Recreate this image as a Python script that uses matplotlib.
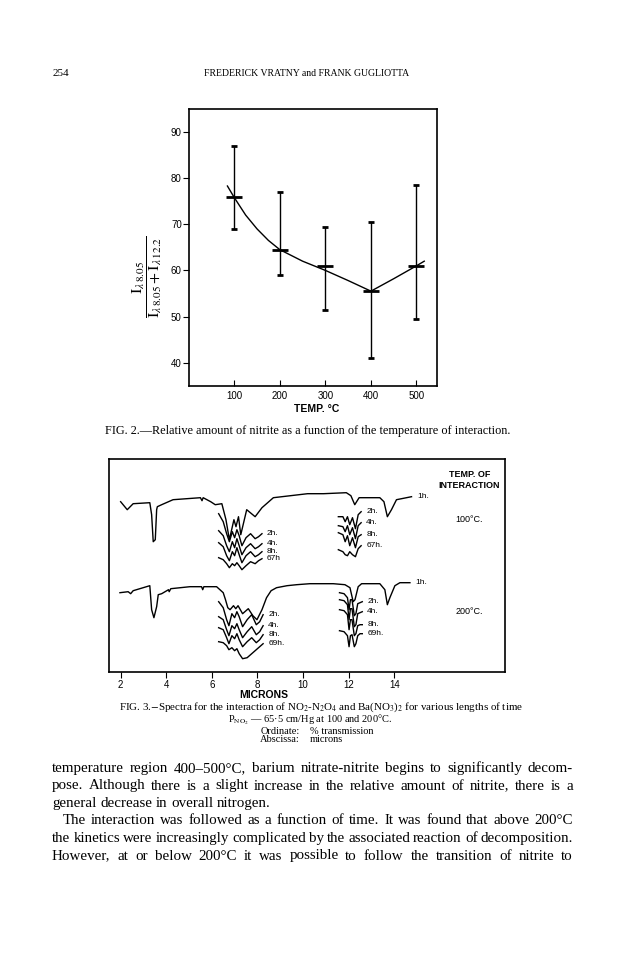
import matplotlib.pyplot as plt
from matplotlib.font_manager import FontProperties

W, H = 624, 960
SERIF = "Liberation Serif"
SANS = "Liberation Sans"
plt.rcParams["mathtext.fontset"] = "stix"

# -----------------------------
# Fig. 2 data (ratio vs temperature)
# -----------------------------
temps = [100, 200, 300, 400, 500]
ratio = [76, 64.5, 61, 55.5, 61]
ratio_low = [69, 59, 51.5, 41, 49.5]
ratio_high = [87, 77, 69.5, 70.5, 78.5]
fit_t = [85, 100, 125, 150, 175, 200, 250, 300, 350, 400, 450, 500, 517]
fit_r = [78.3, 75.8, 72.0, 69.0, 66.5, 64.5, 62.0, 60.0, 57.8, 55.5, 58.2, 61.0, 62.0]

# -----------------------------
# Fig. 3 data (spectra, arbitrary transmission scale)
# -----------------------------
s100_x = [2.0, 2.29, 2.55, 3.28, 3.36, 3.43, 3.52, 3.58, 3.61, 3.8,
          4.3, 5.5, 5.57, 5.62, 5.95, 6.15, 6.44, 6.62, 6.77, 6.97,
          7.06, 7.17, 7.27, 7.53, 7.9, 8.2, 8.7, 9.45, 10.2, 10.9,
          11.9, 12.1, 12.27, 12.46, 13.37, 13.55, 13.7, 13.88, 14.1, 14.76]
s100_y = [170, 162, 168, 169, 157, 130, 132, 162, 165, 167,
          172, 174, 171, 174, 170, 167, 168, 152, 132, 152,
          145, 155, 137, 162, 155, 164, 174, 176, 178, 178,
          179, 176, 167, 174, 174, 170, 155, 162, 172, 175]

s200_x = [1.97, 2.33, 2.44, 2.55, 3.28, 3.36, 3.46, 3.58, 3.65, 3.8,
          4.1, 4.13, 4.2, 5.04, 5.55, 5.6, 5.65, 6.21, 6.5, 6.6,
          6.7, 6.8, 6.95, 7.05, 7.15, 7.35, 7.6, 7.8, 7.98, 8.2,
          8.4, 8.6, 8.84, 9.3, 9.72, 10.3, 11.33, 11.84, 12.06, 12.2,
          12.28, 12.42, 12.57, 13.37, 13.59, 13.7, 13.81, 14.03, 14.25, 14.69]
s200_y = [79, 80, 78, 81, 86, 62, 54, 65, 77, 78,
          82, 80, 83, 85, 85, 82, 85, 85, 79, 72,
          64, 62, 66, 63, 66, 58, 63, 56, 52, 62,
          74, 81, 84, 86, 87, 88, 88, 87, 84, 70,
          72, 85, 88, 88, 82, 67, 74, 86, 89, 89]

# 6-8 micron region, later times
band_a100_x = [6.3, 6.5, 6.65, 6.77, 6.9, 7.0, 7.1, 7.2, 7.32, 7.5, 7.7, 7.9, 8.05, 8.2]
band_a100 = {
    "2h.": [158, 150, 138, 130, 140, 134, 142, 136, 126, 134, 138, 133, 135, 138],
    "4h.": [141, 136, 126, 120, 130, 124, 133, 126, 117, 124, 128, 123, 125, 128],
    "8h.": [129, 125, 116, 111, 120, 116, 124, 117, 109, 116, 120, 115, 117, 120],
    "67h": [114, 112, 108, 104, 108, 106, 109, 106, 102, 106, 110, 108, 111, 113],
}
band_a200_x = [6.3, 6.5, 6.65, 6.75, 6.88, 7.0, 7.1, 7.2, 7.35, 7.55, 7.75, 7.95, 8.1, 8.25]
band_a200 = {
    "2h.": [70, 64, 52, 46, 58, 54, 60, 55, 45, 52, 57, 47, 50, 57],
    "4h.": [55, 52, 42, 36, 46, 43, 48, 42, 34, 40, 45, 37, 40, 46],
    "8h.": [44, 42, 34, 28, 36, 33, 38, 32, 25, 30, 34, 29, 32, 37],
    "69h.": [30, 29, 26, 22, 24, 21, 23, 18, 13, 14, 18, 22, 25, 28],
}
# 12 micron region, later times
band_b100_x = [11.55, 11.75, 11.85, 11.95, 12.05, 12.17, 12.3, 12.42, 12.55]
band_b100 = {
    "2h.": [155, 155, 150, 155, 147, 154, 143, 157, 160],
    "4h.": [146, 145, 140, 146, 137, 144, 133, 146, 149],
    "8h.": [139, 137, 130, 136, 126, 134, 124, 135, 137],
    "67h.": [122, 120, 117, 116, 120, 117, 115, 123, 126],
}
band_b200_x = [11.6, 11.8, 11.95, 12.02, 12.08, 12.15, 12.25, 12.32, 12.4, 12.5, 12.6]
band_b200 = {
    "2h.": [79, 78, 74, 62, 72, 72, 56, 58, 68, 69, 70],
    "4h.": [72, 71, 67, 52, 63, 63, 45, 47, 58, 59, 60],
    "8h.": [62, 61, 57, 42, 52, 52, 36, 38, 46, 47, 47],
    "69h.": [41, 40, 36, 25, 36, 37, 25, 28, 36, 38, 38],
}
micron_ticks = [2, 4, 6, 8, 10, 12, 14]

# body text: (line, justified?)
body_lines = [
    ("temperature region 400\u2013500\u00b0C, barium nitrate-nitrite begins to significantly decom-", True),
    ("pose.  Although there is a slight increase in the relative amount of nitrite, there is a", True),
    ("general decrease in overall nitrogen.", False),
    ("The interaction was followed as a function of time.  It was found that above 200\u00b0C", True),
    ("the kinetics were increasingly complicated by the associated reaction of decomposition.", True),
    ("However, at or below 200\u00b0C it was possible to follow the transition of nitrite to", True),
]

fig = plt.figure(figsize=(W / 100, H / 100), dpi=100)
fig.patch.set_facecolor("white")


def page_text(x, y, s, **kw):
    return fig.text(x / W, 1 - y / H, s, **kw)


# page header
page_text(53, 74, "254", family=SERIF, fontsize=8, va="center")
page_text(307, 74, "FREDERICK VRATNY and FRANK GUGLIOTTA", family=SERIF,
          fontsize=7, ha="center", va="center")

# -----------------------------
# Fig. 2
# -----------------------------
ax1 = fig.add_axes([188.7 / W, 1 - 385.7 / H, (437 - 188.7) / W, (385.7 - 109) / H])
yerr = [[r - lo for r, lo in zip(ratio, ratio_low)],
        [hi - r for r, hi in zip(ratio, ratio_high)]]
ax1.errorbar(temps, ratio, yerr=yerr, fmt="_", color="k", ecolor="k",
             elinewidth=1.0, capsize=2, capthick=0.9, markersize=11, mew=2.0)
ax1.plot(fit_t, fit_r, color="k", lw=1.0)
ax1.set_xlim(0, 545)
ax1.set_ylim(35, 95)
ax1.set_xticks(temps)
ax1.set_yticks([40, 50, 60, 70, 80, 90])
ax1.tick_params(axis="x", direction="in", length=4, width=0.8, pad=4, labelsize=7)
ax1.tick_params(axis="y", direction="out", length=4, width=0.8, pad=1, labelsize=7)
for lab in ax1.get_xticklabels() + ax1.get_yticklabels():
    lab.set_family(SANS)
for sp in ax1.spines.values():
    sp.set_linewidth(1.2)

page_text(147, 277,
          r"$\dfrac{\mathrm{I}_{\lambda\,8.05}}{\mathrm{I}_{\lambda\,8.05}+\mathrm{I}_{\lambda\,12.2}}$",
          fontsize=11.5, rotation=90, ha="center", va="center")
page_text(317, 409, "TEMP. \u00b0C", family=SANS, fontsize=7.5, weight="bold",
          ha="center", va="center")
page_text(308, 431,
          "FIG. 2.\u2014Relative amount of nitrite as a function of the temperature of interaction.",
          family=SERIF, fontsize=8.8, ha="center", va="center")

# -----------------------------
# Fig. 3
# -----------------------------
ax2 = fig.add_axes([109 / W, 1 - 671.7 / H, (505 - 109) / W, (671.7 - 459) / H])
ax2.plot(s100_x, s100_y, color="k", lw=1.0)
ax2.plot(s200_x, s200_y, color="k", lw=1.0)
ax2.text(s100_x[-1] + 0.25, s100_y[-1], "1h.", family=SANS, fontsize=6, va="center")
ax2.text(s200_x[-1] + 0.25, s200_y[-1], "1h.", family=SANS, fontsize=6, va="center")
for bx, bands in [(band_a100_x, band_a100), (band_a200_x, band_a200),
                  (band_b100_x, band_b100), (band_b200_x, band_b200)]:
    for lab, ys in bands.items():
        ax2.plot(bx, ys, color="k", lw=1.0)
        ax2.text(bx[-1] + 0.22, ys[-1], lab, family=SANS, fontsize=6, va="center")

ax2.text(17.3, 197, "TEMP. OF", family=SANS, fontsize=6.5, weight="bold", ha="center", va="center")
ax2.text(17.3, 186, "INTERACTION", family=SANS, fontsize=6.5, weight="bold", ha="center", va="center")
ax2.text(17.3, 152, "100\u00b0C.", family=SANS, fontsize=6.5, ha="center", va="center")
ax2.text(17.3, 60, "200\u00b0C.", family=SANS, fontsize=6.5, ha="center", va="center")

ax2.set_xlim(1.49, 18.86)
ax2.set_ylim(0, 212.7)
ax2.set_xticks(micron_ticks)
ax2.set_yticks([])
ax2.tick_params(axis="x", direction="out", length=4, width=0.8, pad=2, labelsize=7)
for lab in ax2.get_xticklabels():
    lab.set_family(SANS)
for sp in ax2.spines.values():
    sp.set_linewidth(1.2)

page_text(264, 695, "MICRONS", family=SANS, fontsize=7.5, weight="bold",
          ha="center", va="center")
page_text(321, 707,
          r"FIG. 3.$-$Spectra for the interaction of NO$_2$-N$_2$O$_4$ and Ba(NO$_3$)$_2$ for various lengths of time",
          family=SERIF, fontsize=7.9, ha="center", va="center")
page_text(310, 720, "P$_{\\mathrm{NO_2}}$ \u2014 65\u00b75 cm/Hg at 100 and 200\u00b0C.",
          family=SERIF, fontsize=7.5, ha="center", va="center")
page_text(300, 731, "Ordinate:", family=SERIF, fontsize=7.5, ha="right", va="center")
page_text(310, 731, "% transmission", family=SERIF, fontsize=7.5, ha="left", va="center")
page_text(300, 740, "Abscissa:", family=SERIF, fontsize=7.5, ha="right", va="center")
page_text(310, 740, "microns", family=SERIF, fontsize=7.5, ha="left", va="center")

# body text, justified between x=52 and x=573, every word on one baseline
renderer = fig.canvas.get_renderer()
body_font = FontProperties(family=SERIF, size=10.8)
_, _, lp_descent = renderer.get_text_width_height_descent("lp", body_font, ismath=False)
left, right = 52, 573
for i, (line, justify) in enumerate(body_lines):
    baseline = 772 + i * 17.5
    x0 = left + (11 if line.startswith("The interaction") else 0)
    words = line.split()
    texts, widths = [], []
    for w_ in words:
        wd, _, d = renderer.get_text_width_height_descent(w_, body_font, ismath=False)
        texts.append(page_text(x0, baseline + max(d, lp_descent), w_,
                               fontproperties=body_font, ha="left", va="bottom"))
        widths.append(wd)
    space = 10.8 * 0.25 * 100 / 72
    if justify and len(words) > 1:
        space = (right - x0 - sum(widths)) / (len(words) - 1)
    x = x0
    for t, w_ in zip(texts, widths):
        t.set_x(x / W)
        x += w_ + space

fig.savefig("out.png", dpi=100, facecolor="white")
